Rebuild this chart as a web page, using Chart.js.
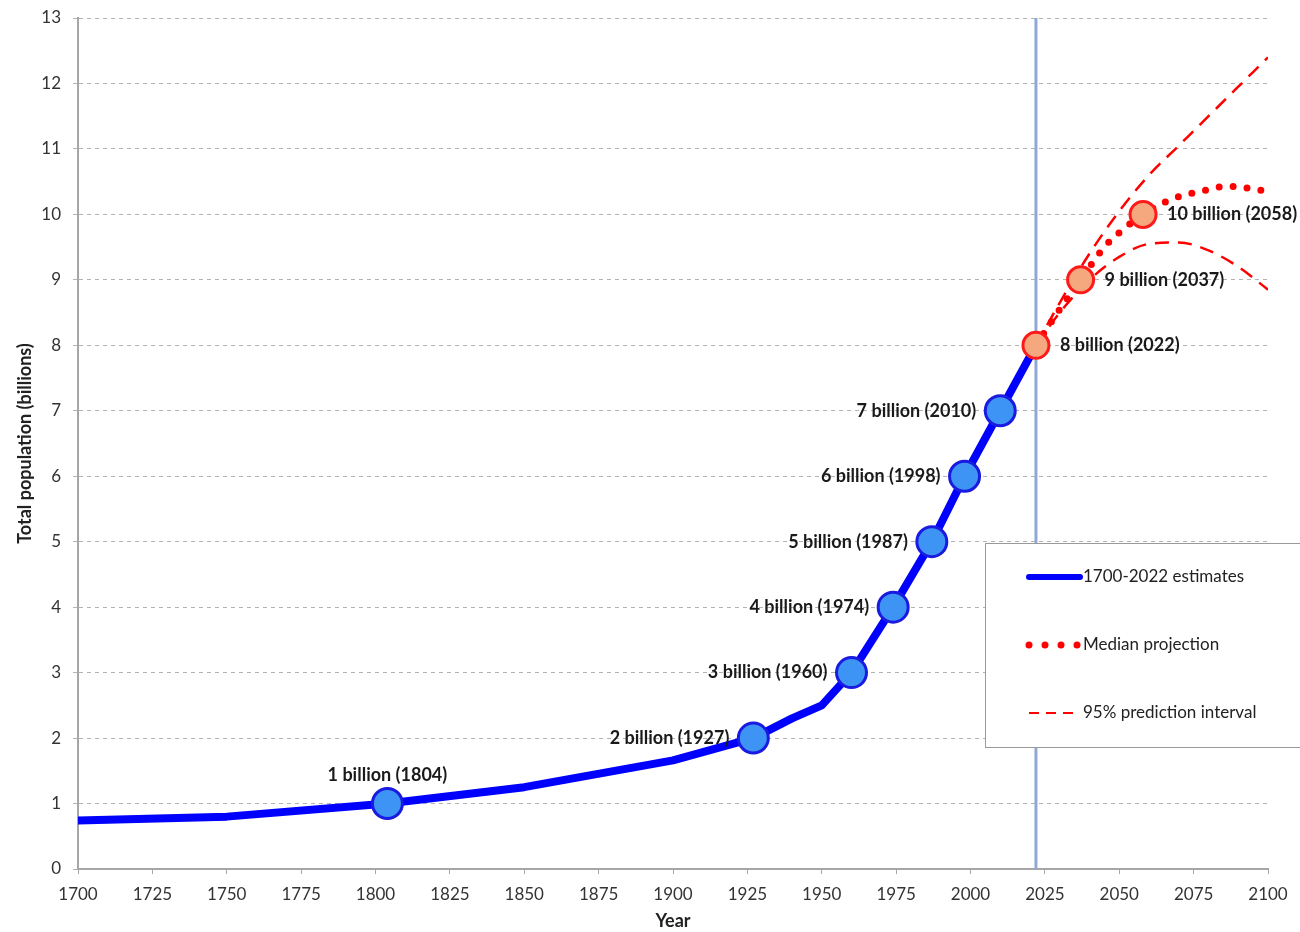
<!DOCTYPE html>
<html lang="en">
  <head>
    <meta charset="UTF-8" />
    <title>World population</title>
    <script src="https://cdn.jsdelivr.net/npm/chart.js"></script>
    <style>
      html, body { margin: 0; padding: 0; background: #fff; }
      #wrap { width: 1300px; height: 932px; }
    </style>
  </head>
  <body>
    <div id="wrap"><canvas id="popChart" width="1300" height="932"></canvas></div>
    <script>
      // estimates 1700-2022 (billions)
      const estYears = [1700, 1750, 1804, 1850, 1900, 1927, 1940, 1950, 1960, 1974, 1987, 1998, 2010, 2022];
      const estValues = [0.74, 0.8, 1.0, 1.25, 1.66, 2.0, 2.3, 2.5, 3.0, 4.0, 5.0, 6.0, 7.0, 8.0];

      // projections
      const projYears = [2022, 2030, 2037, 2045, 2050, 2058, 2065, 2070, 2080, 2086, 2090, 2100];
      const medianValues = [8.0, 8.55, 9.0, 9.5, 9.72, 10.0, 10.18, 10.27, 10.38, 10.43, 10.42, 10.35];
      const bandYears = [2022, 2030, 2040, 2050, 2060, 2070, 2080, 2090, 2100];
      const upperValues = [8.0, 8.65, 9.4, 10.05, 10.6, 11.05, 11.5, 11.95, 12.4];
      const lowerValues = [8.0, 8.5, 9.0, 9.35, 9.55, 9.57, 9.45, 9.2, 8.85];

      // milestones
      const pastMilestoneYears = [1804, 1927, 1960, 1974, 1987, 1998, 2010];
      const pastMilestoneValues = [1, 2, 3, 4, 5, 6, 7];
      const futureMilestoneYears = [2022, 2037, 2058];
      const futureMilestoneValues = [8, 9, 10];

      const markerYear = 2022;
      const legendLabels = ["1700-2022 estimates", "Median projection", "95% prediction interval"];

      const toXY = (xs, ys) => xs.map((x, i) => ({ x: x, y: ys[i] }));
      const FONT = "Lato, 'Liberation Sans', sans-serif";

      const milestoneLabels = {
        id: "milestoneLabels",
        afterDatasetsDraw(chart) {
          const ctx = chart.ctx;
          const xs = chart.scales.x, ys = chart.scales.y;
          ctx.save();
          ctx.font = "bold 18px " + FONT;
          ctx.fillStyle = "#1a1a1a";
          ctx.textBaseline = "middle";
          pastMilestoneYears.forEach((yr, i) => {
            const v = pastMilestoneValues[i];
            const px = xs.getPixelForValue(yr), py = ys.getPixelForValue(v);
            const txt = v + " billion (" + yr + ")";
            if (i === 0) {
              ctx.textAlign = "center";
              ctx.fillText(txt, px, py - 28);
            } else {
              ctx.textAlign = "right";
              ctx.fillText(txt, px - 24, py);
            }
          });
          futureMilestoneYears.forEach((yr, i) => {
            const v = futureMilestoneValues[i];
            const px = xs.getPixelForValue(yr), py = ys.getPixelForValue(v);
            ctx.textAlign = "left";
            ctx.fillText(v + " billion (" + yr + ")", px + 24, py);
          });
          ctx.restore();
        },
      };

      const boxLegend = {
        id: "boxLegend",
        afterDraw(chart) {
          const ctx = chart.ctx;
          const area = chart.chartArea;
          const left = area.right - 283, top = 543, w = 330, h = 204;
          ctx.save();
          ctx.fillStyle = "#fff";
          ctx.fillRect(left, top, w, h);
          ctx.strokeStyle = "#9a9a9a";
          ctx.lineWidth = 1;
          ctx.strokeRect(left + 0.5, top + 0.5, w, h);

          const x0 = left + 44, x1 = left + 95;
          const rows = [top + 34, top + 102, top + 170];

          ctx.lineCap = "round";
          ctx.strokeStyle = "#0000ff";
          ctx.lineWidth = 6;
          ctx.beginPath(); ctx.moveTo(x0, rows[0]); ctx.lineTo(x1, rows[0]); ctx.stroke();

          ctx.fillStyle = "#ff0000";
          for (let k = 0; k < 4; k++) {
            ctx.beginPath();
            ctx.arc(x0 + k * 16, rows[1], 3.5, 0, Math.PI * 2);
            ctx.fill();
          }

          ctx.lineCap = "butt";
          ctx.strokeStyle = "#ff0000";
          ctx.lineWidth = 2;
          ctx.setLineDash([10, 7]);
          ctx.beginPath(); ctx.moveTo(x0, rows[2]); ctx.lineTo(x1, rows[2]); ctx.stroke();
          ctx.setLineDash([]);

          ctx.font = "17px " + FONT;
          ctx.fillStyle = "#222";
          ctx.textAlign = "left";
          ctx.textBaseline = "middle";
          legendLabels.forEach((t, i) => ctx.fillText(t, x1 + 3, rows[i]));
          ctx.restore();
        },
      };

      const ctx = document.getElementById("popChart").getContext("2d");
      new Chart(ctx, {
        type: "line",
        data: {
          datasets: [
            {
              label: "milestone markers",
              type: "scatter",
              data: toXY(pastMilestoneYears, pastMilestoneValues),
              pointRadius: 15,
              pointBackgroundColor: "#3d94f5",
              pointBorderColor: "#1a1ae0",
              pointBorderWidth: 3,
              showLine: false,
              order: 1,
            },
            {
              label: "projected milestones",
              type: "scatter",
              data: toXY(futureMilestoneYears, futureMilestoneValues),
              pointRadius: 13,
              pointBackgroundColor: "#f5a77e",
              pointBorderColor: "#ff1a1a",
              pointBorderWidth: 3,
              showLine: false,
              order: 1,
            },
            {
              label: "Median projection",
              data: toXY(projYears, medianValues),
              borderColor: "#ff0000",
              borderWidth: 7,
              borderDash: [0, 14],
              borderCapStyle: "round",
              pointRadius: 0,
              cubicInterpolationMode: "monotone",
              order: 3,
            },
            {
              label: "95% upper",
              data: toXY(bandYears, upperValues),
              borderColor: "#ff0000",
              borderWidth: 2.5,
              borderDash: [14, 9],
              pointRadius: 0,
              cubicInterpolationMode: "monotone",
              order: 3,
            },
            {
              label: "95% lower",
              data: toXY(bandYears, lowerValues),
              borderColor: "#ff0000",
              borderWidth: 2.5,
              borderDash: [14, 9],
              pointRadius: 0,
              cubicInterpolationMode: "monotone",
              order: 3,
            },
            {
              label: "1700-2022 estimates",
              data: toXY(estYears, estValues),
              borderColor: "#0000ff",
              borderWidth: 8,
              borderJoinStyle: "round",
              pointRadius: 0,
              tension: 0,
              order: 4,
            },
            {
              label: "2022",
              data: [{ x: markerYear, y: 0 }, { x: markerYear, y: 13 }],
              borderColor: "#8ea9d6",
              borderWidth: 3,
              pointRadius: 0,
              order: 10,
            },
          ],
        },
        options: {
          responsive: false,
          animation: false,
          layout: { padding: { top: 18, right: 32, left: 0, bottom: 0 } },
          plugins: {
            legend: { display: false },
            tooltip: { enabled: false },
          },
          scales: {
            x: {
              type: "linear",
              min: 1700,
              max: 2100,
              ticks: {
                stepSize: 25,
                color: "#333",
                font: { family: FONT, size: 17 },
                padding: 10,
                maxRotation: 0,
                callback: (v) => String(v),
              },
              grid: {
                drawOnChartArea: false,
                drawTicks: true,
                tickLength: 5,
                color: "#a6a6a6",
              },
              border: { display: true, color: "#a6a6a6", width: 2 },
              title: {
                display: true,
                text: "Year",
                color: "#222",
                font: { family: FONT, size: 18, weight: "bold" },
                padding: { top: 7, bottom: 0 },
              },
              afterFit(scale) { scale.height = 63; },
            },
            y: {
              min: 0,
              max: 13,
              ticks: {
                stepSize: 1,
                color: "#333",
                font: { family: FONT, size: 17 },
                padding: 12,
              },
              grid: {
                color: "#b3b3b3",
                tickLength: 5,
                lineWidth: 1,
              },
              border: { display: true, color: "#a6a6a6", width: 2, dash: [4, 4] },
              title: {
                display: true,
                text: "Total population (billions)",
                color: "#222",
                font: { family: FONT, size: 18, weight: "bold" },
                padding: { top: 14, bottom: 0 },
              },
              afterFit(scale) {
                scale.width = 78;
                scale.paddingTop = 0;
                scale.paddingBottom = 0;
              },
            },
          },
        },
        plugins: [milestoneLabels, boxLegend],
      });
    </script>
  </body>
</html>
